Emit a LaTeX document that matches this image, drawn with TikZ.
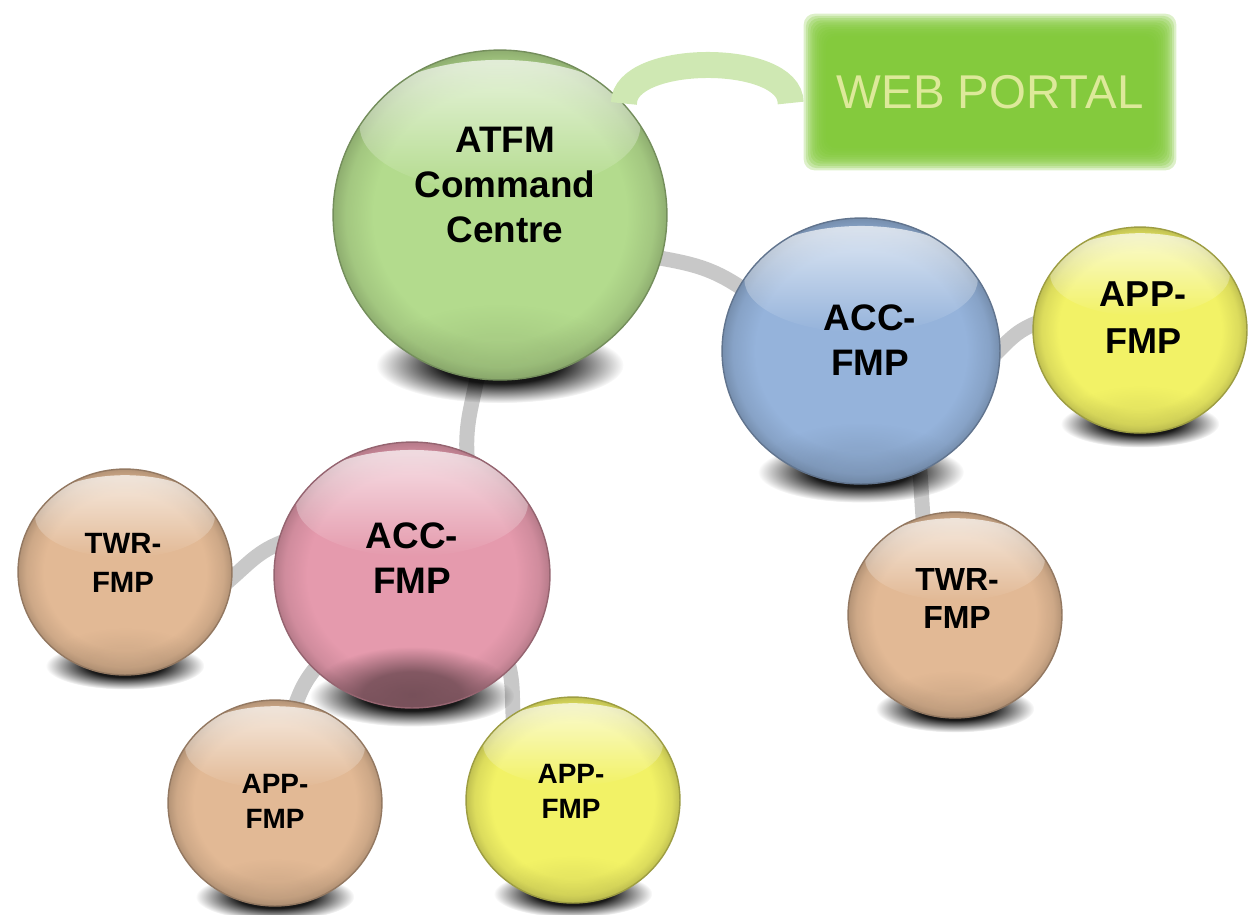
\documentclass[tikz,border=0pt]{standalone}
\usepackage{fontspec}
\setmainfont{Liberation Sans}
\usetikzlibrary{shapes.geometric,fadings,calc}

% palette
\definecolor{atfmgreen}{HTML}{B3DB8D}
\definecolor{accblue}{HTML}{95B3DB}
\definecolor{accpink}{HTML}{E59AAD}
\definecolor{appyellow}{HTML}{F2F266}
\definecolor{fmptan}{HTML}{E2B995}
\definecolor{webgreen}{HTML}{80C837}
\definecolor{webtext}{HTML}{DDE99A}
\definecolor{archgreen}{HTML}{CFE8B3}
\definecolor{linkgray}{HTML}{C8C8C8}

% darkening towards the rim of a ball
\pgfdeclareradialshading{ballrim}{\pgfpointorigin}{color(0bp)=(black); color(19bp)=(black); color(23bp)=(white!18!black); color(25bp)=(white!42!black); color(50bp)=(white!42!black)}
\pgfdeclarefading{ballrimfade}{\pgfuseshading{ballrim}}
% soft spot, used for cast shadows and the dark base of a ball
\pgfdeclareradialshading{softspot}{\pgfpointorigin}{color(0bp)=(white); color(12bp)=(white!90!black); color(25bp)=(black); color(50bp)=(black)}
\pgfdeclarefading{softspotfade}{\pgfuseshading{softspot}}
\tikzfading[name=glossfade, top color=transparent!30, bottom color=transparent!100]

\pgfdeclarelayer{links}
\pgfdeclarelayer{shades}
\pgfsetlayers{links,shades,main}

% shadow under a ball: name, x radius, y radius (px)
\newcommand\castshadow[3]{%
  \fill[black, path fading=softspotfade]
    ($(#1.center)+(0,{0.91*#3})$) ellipse [x radius={0.74*#2}, y radius={0.23*#3}];}

\tikzset{
  ball/.style n args={4}{ellipse, draw=#1!65!black, line width=0.8pt, fill=#1,
    inner sep=0pt, minimum width={#2*0.04cm}, minimum height={#3*0.04cm},
    path picture={
      \fill[#1!50!black, path fading=ballrimfade]
        (path picture bounding box.south west) rectangle (path picture bounding box.north east);
      \fill[#1!50!black, opacity=#4, path fading=softspotfade]
        ($(path picture bounding box.center)+(0,{0.9*#3})$) ellipse [x radius={0.74*#2}, y radius={0.36*#3}];
      \fill[white, path fading=glossfade]
        ($(path picture bounding box.center)+(0,{-0.54*#3})$) ellipse [x radius={0.84*#2}, y radius={0.4*#3}];
    }},
  link/.style={draw=linkgray, line width=0.3cm, shorten <=-0.2cm, shorten >=-0.2cm},
  webarch/.style={draw=archgreen, line width=0.52cm},
  portal/.style={inner sep=0pt, minimum width=7cm, minimum height=2.68cm,
    text=webtext, font=\fontsize{27}{32}\selectfont},
  lbl/.style={align=center, inner sep=0pt, anchor=base, text=black},
  lblbig/.style={lbl, font=\fontsize{21}{25.6}\selectfont\bfseries},
  lblapp/.style={lbl, font=\fontsize{20.5}{26.2}\selectfont\bfseries},
  lbltwr/.style={lbl, font=\fontsize{18.2}{21.3}\selectfont\bfseries},
  lblleft/.style={lbl, font=\fontsize{16.7}{22}\selectfont\bfseries},
  lblsmall/.style={lbl, font=\fontsize{15.9}{19.5}\selectfont\bfseries},
}

\begin{document}
\begin{tikzpicture}[x=0.02cm, y=-0.02cm]
\useasboundingbox (0,0) rectangle (1256,914);

% web portal box, built from stacked translucent plates for a soft edge
\node[portal] (wp) at (990,92) {WEB PORTAL};
\begin{pgfonlayer}{shades}
  \foreach \g in {-5,...,5}
    \fill[webgreen, opacity=0.27, rounded corners=0.22cm]
      ([shift={({-2.2*\g},{-2.2*\g})}]wp.north west) rectangle ([shift={({2.2*\g},{2.2*\g})}]wp.south east);
\end{pgfonlayer}

% balls
\node[ball={atfmgreen}{167}{165}{0.12}] (atfm) at (500,215) {};
\node[ball={accblue}{139}{133}{0.15}]   (accb) at (861,351) {};
\node[ball={appyellow}{107}{103}{0.1}]  (appr) at (1140,330) {};
\node[ball={fmptan}{107}{103}{0.12}]    (twrr) at (955,615) {};
\node[ball={accpink}{138}{133}{0.95}]   (accp) at (412,575) {};
\node[ball={fmptan}{107}{103}{0.12}]    (twrl) at (125,572) {};
\node[ball={fmptan}{107}{103}{0.12}]    (appb) at (275,803) {};
\node[ball={appyellow}{107}{103}{0.1}]  (appy) at (573,800) {};

\begin{pgfonlayer}{shades}
  \castshadow{atfm}{167}{165}
  \castshadow{accb}{139}{133}
  \castshadow{appr}{107}{103}
  \castshadow{twrr}{107}{103}
  \castshadow{accp}{138}{133}
  \castshadow{twrl}{107}{103}
  \castshadow{appb}{107}{103}
  \castshadow{appy}{107}{103}
\end{pgfonlayer}

% links between the balls
\begin{pgfonlayer}{links}
  \draw[link] (atfm.-15)  to[out=-10, in=145]  (accb.152);
  \draw[link] (atfm.-98)  to[out=-100, in=95]  (accp.66);
  \draw[link] (accb.1)    to[out=45, in=200]   (appr.177);
  \draw[link] (accb.-64)  to[out=-85, in=95]   (twrr.108);
  \draw[link] (accp.167)  to[out=200, in=40]   (twrl.-3);
  \draw[link] (accp.-136) to[out=-130, in=70]  (appb.78);
  \draw[link] (accp.-44)  to[out=-75, in=95]   (appy.125);
\end{pgfonlayer}

% arch from the command centre to the web portal
\draw[webarch] (atfm.42) .. controls +(0,-51) and +(0,-51) .. ([shift={(-24,11)}]wp.west);

% labels (anchored at the baseline of their last line)
\node[lblbig]   (atfm-t) at (505,242) {ATFM\\Command\\Centre};
\node[lblbig]   (accb-t) at (870,375) {ACC-\\FMP};
\node[lblapp]   (appr-t) at (1143,353) {APP-\\FMP};
\node[lbltwr]   (twrr-t) at (957,628) {TWR-\\FMP};
\node[lblbig]   (accp-t) at (412,593) {ACC-\\FMP};
\node[lblleft]  (twrl-t) at (123,592) {TWR-\\FMP};
\node[lblsmall] (appb-t) at (275,828) {APP-\\FMP};
\node[lblsmall] (appy-t) at (571,818) {APP-\\FMP};
\end{tikzpicture}
\end{document}
